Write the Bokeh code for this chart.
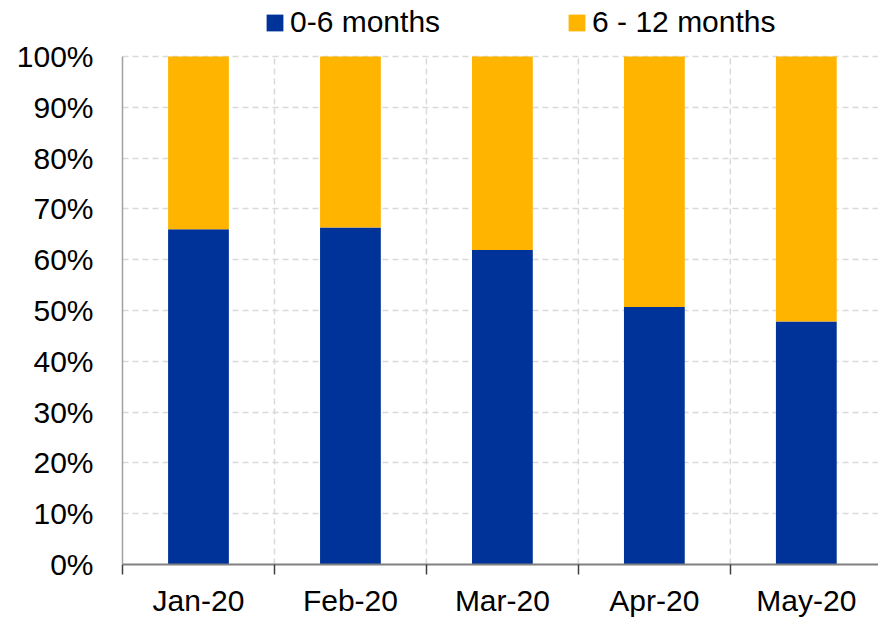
from bokeh.plotting import figure
from bokeh.models import (ColumnDataSource, Range1d, FixedTicker, NumeralTickFormatter,
                          Legend, LegendItem)
from bokeh.embed import file_html
from bokeh.resources import INLINE

categories = ["Jan-20", "Feb-20", "Mar-20", "Apr-20", "May-20"]
series_names = ["0-6 months", "6 - 12 months"]
share_0_6 = [0.660, 0.663, 0.619, 0.507, 0.478]
share_6_12 = [0.340, 0.337, 0.381, 0.493, 0.522]
colors = ["#003399", "#FFB400"]
y_ticks = [0.0, 0.1, 0.2, 0.3, 0.4, 0.5, 0.6, 0.7, 0.8, 0.9, 1.0]

xpos = list(range(len(categories)))
src = ColumnDataSource(dict(x=xpos, a=share_0_6, b=share_6_12))

FONT = "Liberation Sans"
FS = "30px"

p = figure(width=878, height=619, output_backend="svg", toolbar_location=None,
           x_range=Range1d(-0.5, len(categories) - 0.525), y_range=Range1d(0, 1.11),
           min_border_left=122, min_border_right=0, min_border_top=0,
           min_border_bottom=50)
p.outline_line_color = None
p.background_fill_color = "white"

# vertical dashed separators between categories (grid), limited to 0..100%
bounds = [i - 0.5 for i in xpos]
sep = ColumnDataSource(dict(x=bounds[1:], y0=[0] * (len(bounds) - 1),
                            y1=[1] * (len(bounds) - 1)))
p.segment(x0="x", y0="y0", x1="x", y1="y1", source=sep, line_color="#d9d9d9",
          line_dash="6 4", line_width=1.5)

r = p.vbar_stack(["a", "b"], x="x", width=0.4, source=src, color=colors,
                 line_color=None)

# x axis: labels at centers, ticks at category boundaries (minor ticks)
p.xaxis.ticker = FixedTicker(ticks=xpos, minor_ticks=bounds)
p.xaxis.major_label_overrides = {i: c for i, c in enumerate(categories)}
p.xaxis.major_tick_line_color = None
p.xaxis.major_tick_out = 0
p.xaxis.major_tick_in = 0
p.xaxis.minor_tick_line_color = "#404040"
p.xaxis.minor_tick_line_width = 1.5
p.xaxis.minor_tick_out = 10
p.xaxis.minor_tick_in = 0
p.xaxis.axis_line_color = "#808080"
p.xaxis.axis_line_width = 2
p.xaxis.major_label_text_font = FONT
p.xaxis.major_label_text_font_size = FS
p.xaxis.major_label_text_color = "black"
p.xaxis.major_label_standoff = 9
p.xgrid.grid_line_color = None

# y axis
p.yaxis.ticker = FixedTicker(ticks=y_ticks)
p.yaxis.bounds = (0, 1)
p.yaxis.formatter = NumeralTickFormatter(format="0%")
p.yaxis.major_tick_line_color = None
p.yaxis.minor_tick_line_color = None
p.yaxis.major_tick_out = 0
p.yaxis.major_tick_in = 0
p.yaxis.axis_line_color = "#a0a0a0"
p.yaxis.axis_line_width = 1.5
p.yaxis.major_label_text_font = FONT
p.yaxis.major_label_text_font_size = FS
p.yaxis.major_label_text_color = "black"
p.yaxis.major_label_standoff = 29

p.ygrid.ticker = FixedTicker(ticks=y_ticks[1:])
p.ygrid.grid_line_color = "#d9d9d9"
p.ygrid.grid_line_dash = "6 4"
p.ygrid.grid_line_width = 1.5

legend = Legend(items=[LegendItem(label=series_names[0], renderers=[r[0]]),
                       LegendItem(label=series_names[1], renderers=[r[1]])],
                orientation="horizontal", location=(142, 525),
                label_text_font=FONT, label_text_font_size=FS,
                label_text_color="black", glyph_width=21, glyph_height=21,
                label_standoff=5, spacing=126, padding=0, margin=0,
                border_line_color=None, background_fill_alpha=0)
p.add_layout(legend, "center")

open("out.html", "w").write(file_html(p, INLINE))
